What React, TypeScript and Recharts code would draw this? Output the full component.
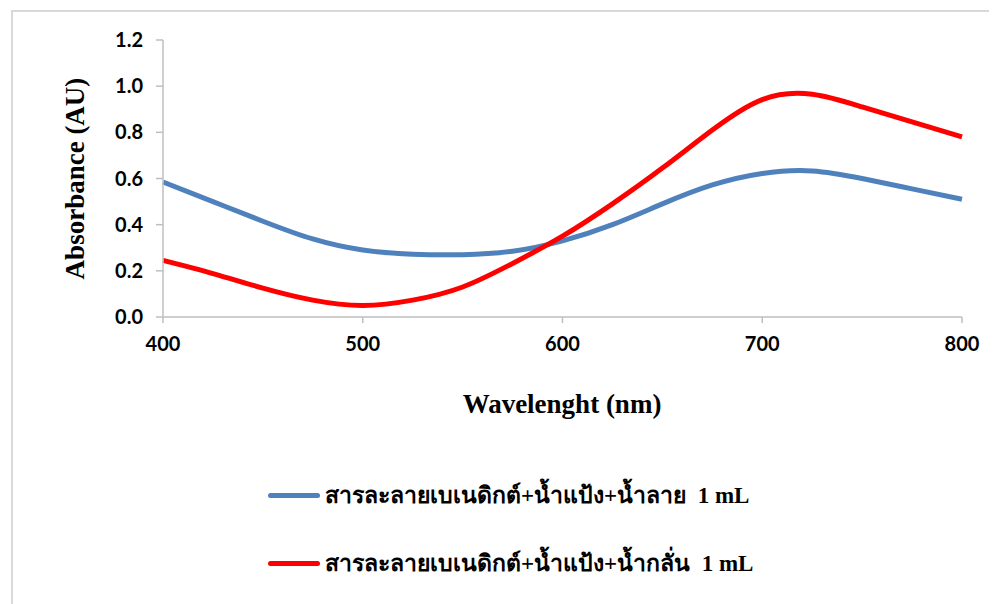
import { LineChart, Line, XAxis, YAxis, Legend, Label } from "recharts";

const wavelength = [400, 425, 450, 475, 500, 525, 550, 575, 600, 625, 650, 675, 700, 725, 750, 775, 800];
const saliva = [0.585, 0.5, 0.415, 0.338, 0.29, 0.272, 0.27, 0.285, 0.33, 0.4, 0.49, 0.572, 0.622, 0.633, 0.6, 0.555, 0.51];
const distilled = [0.245, 0.188, 0.125, 0.073, 0.05, 0.073, 0.13, 0.232, 0.35, 0.49, 0.645, 0.81, 0.942, 0.965, 0.91, 0.845, 0.78];
const xTicks = [400, 500, 600, 700, 800];
const yTicks = [0, 0.2, 0.4, 0.6, 0.8, 1.0, 1.2];
const seriesNames = [
  "สารละลายเบเนดิกต์+น้ำแป้ง+น้ำลาย  1 mL",
  "สารละลายเบเนดิกต์+น้ำแป้ง+น้ำกลั่น  1 mL",
];

const BLUE = "#4F81BD";
const RED = "#FF0000";
const AXIS = "#BFBFBF";
const SERIF = "'Liberation Serif', 'Times New Roman', serif";
const TICK = { fill: "#000", fontSize: 20, fontWeight: 700, fontFamily: "Lato, 'Liberation Sans', sans-serif" };

const data = wavelength.map((w, i) => ({ w, saliva: saliva[i], distilled: distilled[i] }));

function LegendBox() {
  const rows = [
    { name: seriesNames[0], color: BLUE },
    { name: seriesNames[1], color: RED },
  ];
  return (
    <div>
      {rows.map((r, i) => (
        <div key={i} style={{ display: "flex", alignItems: "center", height: 68 }}>
          <div style={{ width: 52, height: 5, borderRadius: 3, background: r.color, marginRight: 5 }} />
          <span style={{ fontFamily: SERIF, fontWeight: 700, fontSize: 23, whiteSpace: "pre", color: "#000" }}>{r.name}</span>
        </div>
      ))}
    </div>
  );
}

export default function App() {
  return (
    <div style={{ position: "relative", width: 980, height: 596 }}>
      <div style={{ position: "absolute", left: 3, top: 2, right: -20, bottom: 0, borderTop: "2px solid #D9D9D9", borderLeft: "2px solid #D9D9D9" }} />
      <LineChart width={980} height={580} data={data} margin={{ top: 32, right: 26, left: 0, bottom: 231 }}>
        <XAxis
          dataKey="w" type="number" domain={[400, 800]} ticks={xTicks}
          stroke={AXIS} strokeWidth={1.5} tickSize={6} tickMargin={14} height={40}
          tick={TICK}
        >
          <Label
            content={() => (
              <text x={554} y={396} textAnchor="middle" dominantBaseline="central"
                style={{ fontFamily: SERIF, fontWeight: 700, fontSize: 27 }}>
                Wavelenght (nm)
              </text>
            )}
          />
        </XAxis>
        <YAxis
          type="number" domain={[0, 1.2]} ticks={yTicks} width={155}
          stroke={AXIS} strokeWidth={1.5} tickSize={7} tickMargin={13}
          tick={TICK} tickFormatter={(v: number) => v.toFixed(1)}
        >
          <Label
            content={({ viewBox }: any) => {
              const cy = viewBox.y + viewBox.height / 2;
              return (
                <text x={67} y={cy} transform={`rotate(-90, 67, ${cy})`} textAnchor="middle" dominantBaseline="central"
                  style={{ fontFamily: SERIF, fontWeight: 700, fontSize: 27 }}>
                  Absorbance (AU)
                </text>
              );
            }}
          />
        </YAxis>
        <Legend
          layout="vertical" align="center" verticalAlign="middle"
          content={() => <LegendBox />}
          wrapperStyle={{ left: 260, top: 453, width: 600 }}
        />
        <Line type="natural" dataKey="saliva" stroke={BLUE} strokeWidth={5} dot={false} isAnimationActive={false} />
        <Line type="natural" dataKey="distilled" stroke={RED} strokeWidth={5} dot={false} isAnimationActive={false} />
      </LineChart>
    </div>
  );
}
